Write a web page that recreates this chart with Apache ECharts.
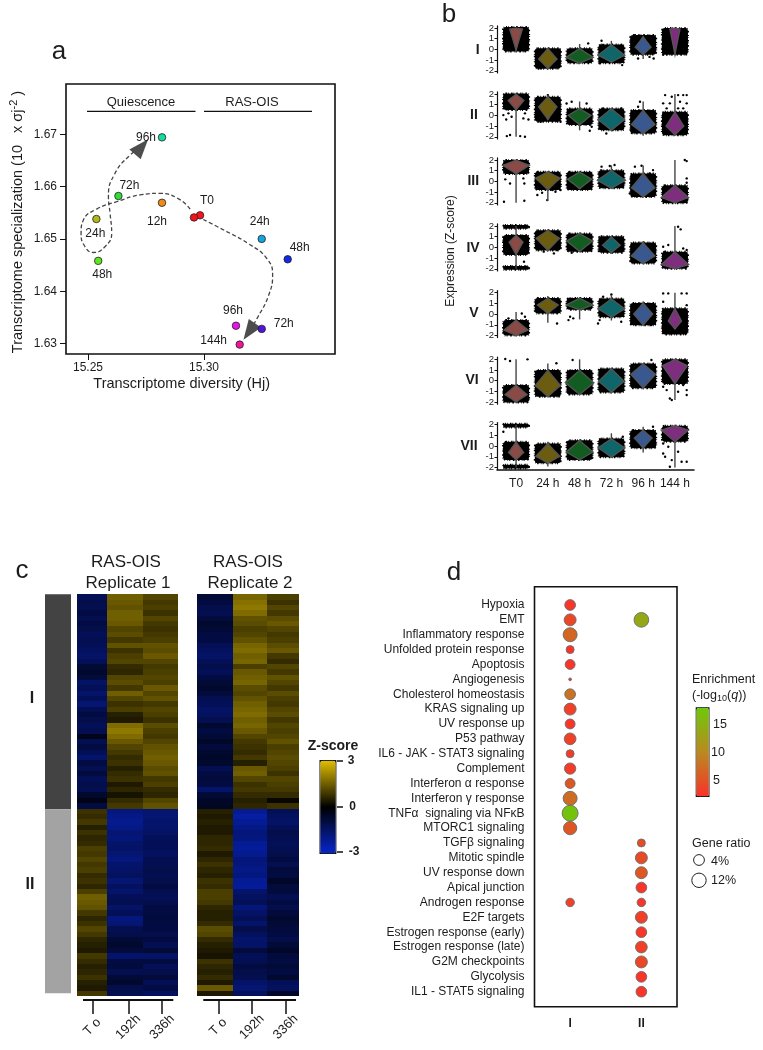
<!DOCTYPE html>
<html>
<head>
<meta charset="utf-8">
<script src="https://cdn.jsdelivr.net/npm/echarts@6/dist/echarts.min.js"></script>
<style>html,body{margin:0;padding:0;background:#fff}#main{width:763px;height:1050px}</style>
</head>
<body>
<div id="main"></div>
<script>
// panel a: trajectory points
var pointNames = ['T0', '', '12h', '72h', '24h', '48h', '96h', '24h', '48h', '72h', '96h', '144h'];
var pointX = [15.2983, 15.2957, 15.2819, 15.2631, 15.2536, 15.2544, 15.2819, 15.3249, 15.3361, 15.3249, 15.3138, 15.3154];
var pointY = [1.6545, 1.6541, 1.6569, 1.6582, 1.6538, 1.6458, 1.6694, 1.6500, 1.6461, 1.6328, 1.6334, 1.6298];
var pointColors = ['#f5141e', '#f01418', '#f08a14', '#2fdc38', '#b4b814', '#5fe61e', '#14dca0', '#14a4e0', '#1428e6', '#5014dc', '#e614e6', '#f0149a'];
var labelShift = [[7, -15], [0, 0], [-5, 19], [11, -10], [-1, 15], [4, 14], [-16, 0], [-2, -17], [12, -12], [22, -5], [-3, -15], [-26, -4]];
var quiescencePath = [[15.2940, 1.6557], [15.2889, 1.6577], [15.2810, 1.6587], [15.2724, 1.6584], [15.2624, 1.6571], [15.2537, 1.6557], [15.2480, 1.6536], [15.2470, 1.6511], [15.2487, 1.6485], [15.2523, 1.6474], [15.2573, 1.6485], [15.2602, 1.6511], [15.2595, 1.6549], [15.2588, 1.6581], [15.2616, 1.6625], [15.2681, 1.6660], [15.2731, 1.6676]];
var rasPath = [[15.2997, 1.6537], [15.3098, 1.6514], [15.3191, 1.6491], [15.3270, 1.6463], [15.3296, 1.6431], [15.3277, 1.6390], [15.3234, 1.6352], [15.3195, 1.6323]];

// panel b: clouds are [low, high], violins are [whisker low, peak, whisker high, half width]
var timeLabels = ['T0', '24 h', '48 h', '72 h', '96 h', '144 h'];
var rowNames = ['I', 'II', 'III', 'IV', 'V', 'VI', 'VII'];
var cloudsI = [[-0.2, 2.1], [-1.8, 0.1], [-1.3, 0.1], [-1.3, 0.45], [-0.5, 1.35], [-0.5, 2]];
var cloudsII = [[0.5, 2.05], [-0.6, 1.75], [-0.9, 0.65], [-1.4, 0.65], [-1.7, 0.5], [-1.85, 0.35]];
var cloudsIII = [[0.7, 2], [-0.8, 0.9], [-0.8, 0.9], [-0.65, 1.05], [-1.45, 0.75], [-2.05, -0.35]];
var cloudsIV = [[-0.7, 1.15], [-0.3, 1.6], [-0.4, 1.3], [-0.5, 1.05], [-1.5, 0.45], [-2, -0.4]];
var cloudsV = [[-2, -0.55], [0.05, 1.5], [0.4, 1.5], [-0.3, 1.45], [-1.05, 1.05], [-1.9, 0.55]];
var cloudsVI = [[-2.05, -0.4], [-1.5, 1], [-1.3, 1], [-1.1, 1.15], [-0.7, 1.6], [-0.3, 2]];
var cloudsVII = [[-1.3, 0.4], [-1.6, 0.25], [-1.3, 0.55], [-1.05, 0.7], [-0.2, 1.5], [0.4, 1.9]];
var violinsI = [[-0.1, 1.9, 2, 0.2], [-1.8, -0.9, 0.1, 0.29], [-1.3, -0.75, 0.5, 0.43], [-1.2, -0.55, 0.8, 0.42], [-0.9, 0.2, 1.2, 0.25], [-0.5, 1.9, 2, 0.16]];
var violinsII = [[-2, 1.4, 2, 0.25], [-0.4, 0.8, 1.9, 0.29], [-1.4, 0, 1.3, 0.36], [-1.5, -0.4, 0.7, 0.42], [-1.9, -0.85, 1.3, 0.37], [-1.9, -1, 2, 0.28]];
var violinsIII = [[-2, 1.5, 2, 0.42], [-1.8, 0.3, 0.9, 0.39], [-0.7, 0.2, 0.9, 0.38], [-0.7, 0.1, 1.5, 0.44], [-1.5, -0.6, 1.5, 0.37], [-2, -1.5, 2, 0.43]];
var violinsIV = [[-2, 0.5, 2, 0.22], [-0.3, 0.85, 1.7, 0.37], [-0.4, 0.6, 1.4, 0.41], [-0.6, 0.2, 1, 0.28], [-1.5, -0.8, 0.6, 0.37], [-2, -1.6, 2, 0.43]];
var violinsV = [[-2, -1.5, 0.2, 0.38], [-0.8, 0.85, 1.7, 0.33], [-0.5, 0.85, 1.6, 0.42], [-0.6, 0.5, 1.8, 0.42], [-1.1, 0, 1.2, 0.3], [-1.4, -0.65, 2, 0.21]];
var violinsVI = [[-2, -1.3, 2, 0.35], [-1.5, -0.45, 1.6, 0.4], [-1.3, -0.2, 2, 0.45], [-1.2, -0.05, 1.2, 0.4], [-0.8, 0.6, 1.6, 0.39], [-1.8, 1.4, 2, 0.39]];
var violinsVII = [[-2, -0.6, 2, 0.24], [-1.9, -0.95, 0.4, 0.38], [-1.4, -0.55, 0.6, 0.42], [-1.1, -0.15, 1.2, 0.42], [-0.6, 0.75, 1.8, 0.28], [-2, 1.5, 2, 0.43]];
var extraClouds = [[], [], [], [[0, 1.75, 2.1], [0, -2.1, -1.75]], [], [], [[0, 1.75, 2.1], [0, -2.1, -1.75]]];
var outliersI = [[2.27, 0.56], [2.69, 0.81], [2.74, 0.4], [2.63, 0.1], [3.31, 0.4], [2.63, -1.3], [3.34, -1.47], [3.74, 1.34], [4.33, 1.2], [3.84, -0.85], [4.33, -0.85], [4.2, -0.7], [4.63, -0.5], [0.77, -1.78], [1.37, -0.06]];
var outliersII = [[-0.4, 0.03], [-0.24, 0.19], [-0.14, -0.13], [0.23, -0.28], [0.39, -0.38], [-0.31, -0.38], [0.28, 0.19], [-0.29, -1.94], [-0.19, -1.84], [0.13, -1.94], [0.28, -2], [1, 1.9], [0.61, -0.13], [0.77, -0.6], [1.29, -0.5], [1.4, -0.6], [1.59, 1.12], [1.75, 1.28], [2.22, 1.12], [2.38, -1.06], [2.32, -1.44], [2.74, 0.66], [3.31, 0.66], [2.84, -1.69], [3.63, 0.03], [3.9, 1.28], [3.84, 0.81], [4.26, 0.34], [4.33, 0.03], [4.69, 1.9], [4.9, 1.75], [5.1, 1.9], [5.26, 1.9], [5.37, 1.9], [4.63, 1.13], [4.84, 1.13], [5.16, 1.28], [5.37, 1.13], [4.74, 0.66], [5.26, 0.66], [5.1, 0.66]];
var outliersIII = [[-0.34, 0.19], [-0.19, -0.19], [0.23, 0.28], [0.26, -0.19], [-0.38, -1.9], [0.26, -1.81], [0.67, -1.28], [0.82, -1.06], [1.14, -0.81], [1.24, -0.97], [0.98, -1.75], [1.4, -0.8], [2.95, 1.44], [3.1, 1.53], [2.69, 1.38], [3.74, 1.38], [3.95, 1.47], [4.31, 1.06], [4.21, 0.75], [3.69, 0.6], [3.58, -1.13], [5.31, 2], [5.37, 1.9], [5.37, 0.28], [5.37, -0.13]];
var outliersIV = [[0.25, -1.34], [0.87, -0.4], [0.98, -0.1], [1.19, -0.56], [1.29, -0.25], [1.75, -0.5], [5.1, 1.94], [5.18, 1.69], [4.63, 0.06], [4.79, 0.22], [5.26, -0.1], [5.37, -0.25], [4.69, -0.4]];
var outliersV = [[0.18, 0.06], [-0.24, -0.4], [0.28, -0.25], [1.29, -0.88], [1.7, -0.25], [1.8, -0.4], [1.65, -0.56], [2.63, -0.56], [2.58, -0.88], [3.31, -0.72], [2.74, 1.63], [3, 1.84], [3.63, -0.88], [4.26, -1.03], [4.63, 1.94], [4.79, 1.94], [5.21, 1.94], [5.37, 1.94], [4.63, 1.16], [5.37, 0.84]];
var outliersVI = [[-0.34, 2.03], [-0.19, 1.84], [0.36, 2], [1.27, 1.63], [1.78, 1.94], [4.26, 1.94], [4.84, -1.66], [4.9, -1.81], [5.37, -1.34], [4.63, -0.56], [4.74, -0.88], [5.26, -0.4], [5.37, -0.88], [5.1, -1.03]];
var outliersVII = [[-0.4, 1.34], [4.63, -0.69], [4.79, -0.06], [4.69, -1], [5.1, -0.53], [5.21, -1.47], [5.37, -1.47], [4.84, -1.94], [4.63, 0.25], [4.9, -1.31], [5.26, 0.56], [4.31, 1.81], [3.36, 0.88]];
var violinColors = ['#8a4a46', '#6b5c10', '#125c22', '#0f666a', '#38588f', '#7d2f7d'];

// panel c: 40 rows of cluster I then 35 rows of cluster II
var clusterSizes = [215, 184];
var heatTimes = ['T o', '192h', '336h'];
var rep1T0 = [-1.3, -1.1, -1.2, -1.0, -1.2, -1.0, -1.1, -1.3, -1.2, -1.3, -1.4, -1.5, -1.3, -0.8, -0.7, -0.9, -1.5, -1.3, -1.6, -1.3, -1.7, -1.2, -1.0, -1.1, -1.3, -1.2, -0.4, -1.2, -1.0, -1.3, -1.6, -1.0, -1.2, -0.9, -1.3, -1.1, -1.2, -0.7, -0.3, -1.0,
    0.8, 0.7, 0.9, 0.5, 0.8, 0.6, 0.7, 1.0, 0.9, 1.1, 0.9, 1.0, 0.7, 0.8, 0.6, 1.0, 1.5, 1.4, 1.3, 0.9, 0.6, 0.8, 1.1, 0.9, 0.6, 0.5, 0.4, 0.9, 0.7, 0.5, 0.6, 0.8, 0.5, 0.4, 0.9];
var rep1H192 = [1.5, 1.4, 1.3, 1.5, 1.5, 1.4, 1.1, 1.2, 0.9, 1.3, 0.8, 1.0, 1.1, 0.7, 0.6, 1.1, 1.2, 0.9, 1.5, 1.1, 0.8, 1.0, 0.5, 0.4, 1.7, 1.9, 1.7, 1.4, 1.1, 0.9, 0.7, 0.8, 0.5, 0.7, 0.8, 0.4, 0.6, 0.3, 0.7, 0.9,
    -1.9, -2.0, -2.1, -2.0, -1.7, -1.8, -1.6, -1.5, -1.7, -1.9, -1.6, -1.5, -1.4, -1.7, -1.4, -1.6, -1.3, -1.2, -1.5, -1.3, -1.9, -1.7, -1.2, -1.1, -0.8, -0.7, -0.9, -1.6, -1.0, -0.9, -1.2, -0.8, -0.7, -1.1, -1.2];
var rep1H336 = [1.1, 0.9, 1.0, 0.8, 1.1, 0.9, 0.8, 0.9, 1.0, 1.3, 1.2, 1.4, 1.1, 0.9, 1.0, 1.1, 1.0, 1.4, 1.1, 1.3, 0.9, 1.1, 1.0, 0.8, 1.2, 1.0, 0.9, 1.1, 1.3, 1.4, 1.5, 1.4, 1.2, 1.3, 0.9, 1.0, 0.7, 0.6, 1.1, 1.3,
    -1.7, -1.7, -1.6, -1.6, -1.5, -1.3, -1.3, -1.3, -1.4, -1.2, -1.2, -1.1, -1.2, -1.1, -1.0, -1.2, -1.3, -1.1, -1.0, -1.0, -0.9, -1.0, -1.0, -1.1, -1.0, -1.2, -0.8, -1.5, -1.0, -1.3, -1.1, -0.9, -1.3, -1.0, -1.4];
var rep2T0 = [-0.8, -1.0, -1.1, -1.2, -0.9, -0.7, -0.8, -1.0, -1.0, -1.3, -1.4, -1.5, -1.3, -1.1, -1.3, -1.0, -0.8, -0.7, -0.9, -1.2, -1.3, -1.5, -1.4, -1.2, -0.7, -1.0, -0.8, -0.6, -0.9, -0.7, -0.6, -0.7, -1.2, -1.0, -0.9, -1.0, -1.6, -0.8, -0.6, -0.5,
    0.5, 0.4, 0.5, 0.4, 0.4, 0.6, 0.6, 0.7, 0.4, 0.6, 0.8, 0.6, 0.5, 0.8, 0.7, 1.0, 1.0, 0.9, 0.6, 0.5, 0.5, 0.7, 1.2, 1.1, 0.7, 0.5, 0.4, 0.3, 0.8, 0.6, 0.5, 0.7, 0.4, 1.4, 0.4];
var rep2H192 = [1.6, 1.8, 1.9, 1.7, 1.3, 1.2, 1.0, 1.1, 1.3, 1.6, 1.7, 1.5, 1.6, 1.0, 1.4, 1.5, 1.6, 1.2, 1.1, 1.3, 1.5, 1.6, 1.7, 1.5, 1.6, 1.4, 1.1, 0.9, 0.8, 0.7, 0.9, 0.5, 1.4, 1.5, 1.1, 0.8, 0.9, 0.7, 0.5, 0.6,
    -2.2, -2.4, -2.2, -2.0, -1.8, -1.9, -2.2, -2.3, -2.1, -1.8, -1.9, -2.0, -1.9, -2.2, -2.3, -1.6, -1.4, -1.3, -1.8, -1.5, -1.3, -1.6, -1.1, -1.4, -1.6, -1.5, -0.9, -1.3, -1.2, -1.0, -1.1, -1.2, -1.5, -1.7, -1.4];
var rep2H336 = [1.0, 0.8, 1.1, 0.9, 1.2, 1.4, 1.1, 0.9, 1.0, 1.2, 1.4, 0.9, 0.7, 1.1, 0.9, 1.3, 1.1, 0.9, 1.2, 1.0, 0.9, 1.1, 1.2, 0.9, 1.1, 1.0, 1.1, 1.3, 1.0, 1.1, 1.2, 1.1, 1.0, 0.8, 1.1, 1.0, 0.9, 0.7, 0.1, 0.8,
    -1.3, -1.4, -1.5, -1.3, -1.1, -1.2, -1.3, -1.2, -1.1, -1.0, -1.2, -0.9, -1.0, -0.6, -0.9, -0.9, -1.2, -1.0, -1.1, -0.9, -0.7, -0.8, -0.9, -1.0, -1.1, -0.8, -0.6, -0.9, -1.0, -0.8, -1.0, -0.7, -1.3, -1.4, -0.6];

// panel d: dots are [pathway index, enrichment, gene ratio %]
var pathways = ['Hypoxia', 'EMT', 'Inflammatory response', 'Unfolded protein response', 'Apoptosis', 'Angiogenesis', 'Cholesterol homeostasis', 'KRAS signaling up', 'UV response up', 'P53 pathway', 'IL6 - JAK - STAT3 signaling', 'Complement', 'Interferon α response', 'Interferon γ response', 'TNFα  signaling via NFκB', 'MTORC1 signaling', 'TGFβ signaling', 'Mitotic spindle', 'UV response down', 'Apical junction', 'Androgen response', 'E2F targets', 'Estrogen response (early)', 'Estrogen response (late)', 'G2M checkpoints', 'Glycolysis', 'IL1 - STAT5 signaling'];
var clusterNames = ['I', 'II'];
var dotsI = [[0, 2.5, 3.8], [1, 4, 5.6], [2, 7, 10.4], [3, 2, 2.8], [4, 2.5, 3.5], [5, 2, 0.9], [6, 8, 3.8], [7, 3.5, 5.6], [8, 2.5, 3.5], [9, 3.5, 5], [10, 3, 2.8], [11, 3, 4], [12, 5.5, 3.5], [13, 7.5, 10.4], [14, 17.5, 15], [15, 5.5, 8.7], [20, 3.5, 3]];
var dotsII = [[1, 14, 12], [16, 4.5, 2.8], [17, 4.5, 5.6], [18, 5.5, 5.6], [19, 2.5, 3.8], [20, 2.5, 3], [21, 3.5, 5.6], [22, 2.5, 3.8], [23, 3.5, 5], [24, 4, 5.6], [25, 2.5, 3.8], [26, 2.5, 3.8]];

var font = '"Liberation Sans", Arial, sans-serif';
var ink = '#1c1c1c';

function txt(text, x, y, size, extra) {
    var style = {text: text, x: x, y: y, font: size + 'px ' + font, fill: ink, align: 'center', verticalAlign: 'middle'};
    var el = {type: 'text', silent: true, style: style};
    if (extra) {
        if (extra.weight) style.font = extra.weight + ' ' + style.font;
        if (extra.align) style.align = extra.align;
        if (extra.rich) style.rich = extra.rich;
        if (extra.rotation) {
            el.rotation = extra.rotation;
            el.x = x;
            el.y = y;
            style.x = 0;
            style.y = 0;
        }
    }
    return el;
}
function hline(x1, x2, y, width) {
    return {type: 'line', silent: true, shape: {x1: x1, y1: y, x2: x2, y2: y}, style: {stroke: '#111', lineWidth: width}};
}

var grids = [], xAxes = [], yAxes = [], series = [];

// ---------- a ----------
grids.push({left: 66, top: 84, width: 269, height: 270, show: true, borderColor: '#111', borderWidth: 1.6, backgroundColor: 'transparent'});
xAxes.push({
    type: 'value', gridIndex: 0, min: 15.2405, max: 15.3565, splitLine: {show: false}, axisLine: {show: false},
    axisTick: {length: 6, lineStyle: {color: '#111'}, customValues: [15.25, 15.30]},
    axisLabel: {fontSize: 12, color: ink, margin: 8, customValues: [15.25, 15.30], formatter: function (v) { return v.toFixed(2); }}
});
yAxes.push({
    type: 'value', gridIndex: 0, min: 1.628, max: 1.6796, splitLine: {show: false}, axisLine: {show: false},
    axisTick: {length: 6, lineStyle: {color: '#111'}, customValues: [1.63, 1.64, 1.65, 1.66, 1.67]},
    axisLabel: {fontSize: 12, color: ink, margin: 9, customValues: [1.63, 1.64, 1.65, 1.66, 1.67], formatter: function (v) { return v.toFixed(2); }}
});
function trajectory(path, arrowRotate) {
    var data = path.slice(0, -1).map(function (p) { return p; });
    data.push({value: path[path.length - 1], symbol: 'triangle', symbolSize: [15, 20], symbolRotate: arrowRotate, itemStyle: {color: '#4d4d4d'}});
    return {
        type: 'line', xAxisIndex: 0, yAxisIndex: 0, smooth: 0.5, data: data, symbol: 'none', showSymbol: true, z: 2, silent: true,
        lineStyle: {color: '#444', width: 1.3, type: [4, 2.5]}
    };
}
series.push(trajectory(quiescencePath, -41));
series.push(trajectory(rasPath, 145));
series.push({
    type: 'scatter', xAxisIndex: 0, yAxisIndex: 0, symbolSize: 7.5, z: 3, silent: true,
    data: pointNames.map(function (n, i) {
        return {
            value: [pointX[i], pointY[i]], name: n,
            itemStyle: {color: pointColors[i], borderColor: '#222', borderWidth: 0.8, opacity: 1},
            label: {show: n !== '', formatter: n, position: 'inside', offset: labelShift[i], fontSize: 12, color: ink, textBorderWidth: 0, opacity: 1}
        };
    })
});

// ---------- b ----------
var rowTops = [25.9, 91.9, 157.9, 223.9, 290.6, 357.2, 422.6];
var rowClouds = [cloudsI, cloudsII, cloudsIII, cloudsIV, cloudsV, cloudsVI, cloudsVII];
var rowViolins = [violinsI, violinsII, violinsIII, violinsIV, violinsV, violinsVI, violinsVII];
var rowOutliers = [outliersI, outliersII, outliersIII, outliersIV, outliersV, outliersVI, outliersVII];

function renderCloud(params, api) {
    var c = api.coord([api.value(0), api.value(2)]);
    var d = api.coord([api.value(0), api.value(1)]);
    var hw = api.size([0.41, 0])[0];
    return {
        type: 'rect', shape: {x: c[0] - hw, y: c[1], width: hw * 2, height: d[1] - c[1], r: 3},
        style: {fill: '#000', stroke: '#000', lineWidth: 2, lineDash: [1, 1.2, 0.6, 2.3, 1.4, 1, 0.7, 1.9, 1.6, 2.6]}
    };
}
function renderViolin(params, api) {
    var x = api.value(0), low = api.value(1), high = api.value(2);
    var wl = api.value(3), peak = api.value(4), wh = api.value(5);
    var hw = api.size([api.value(6), 0])[0];
    var bl = Math.max(low, wl), bh = Math.min(high, wh);
    var cx = api.coord([x, 0])[0];
    var left = [], right = [];
    for (var k = 0; k <= 16; k++) {
        var s = k / 16;
        var v = s < 0.5 ? bl + (peak - bl) * s * 2 : peak + (bh - peak) * (s - 0.5) * 2;
        var t = s < 0.5 ? s * 2 : (1 - s) * 2;
        var w = hw * Math.pow(t, 1.05);
        var py = api.coord([x, v])[1];
        left.push([cx - w, py]);
        right.unshift([cx + w, py]);
    }
    return {
        type: 'group',
        children: [
            {type: 'line', shape: {x1: cx, y1: api.coord([x, wl])[1], x2: cx, y2: api.coord([x, wh])[1]}, style: {stroke: '#444', lineWidth: 1.4}},
            {type: 'polygon', shape: {points: left.concat(right)}, style: {fill: violinColors[x], stroke: '#555', lineWidth: 1.3}}
        ]
    };
}
rowNames.forEach(function (name, r) {
    var gi = grids.length;
    var last = r === rowNames.length - 1;
    grids.push({left: 497, top: rowTops[r], width: 197, height: 47});
    xAxes.push({
        type: 'value', gridIndex: gi, min: -0.6, max: 5.6, show: last, splitLine: {show: false},
        axisLine: {show: last, onZero: false, lineStyle: {color: '#111', width: 1.5}}, axisTick: {show: false},
        axisLabel: {fontSize: 12, color: ink, margin: 8, customValues: [0, 1, 2, 3, 4, 5], formatter: function (v) { return timeLabels[v]; }}
    });
    yAxes.push({
        type: 'value', gridIndex: gi, min: -2.2, max: 2.2, splitLine: {show: false},
        axisLine: {show: true, onZero: false, lineStyle: {color: '#111', width: 1.2}},
        axisTick: {length: 2.5, lineStyle: {color: '#111'}, customValues: [-2, -1, 0, 1, 2]},
        axisLabel: {fontSize: 9.5, color: ink, margin: 3, customValues: [-2, -1, 0, 1, 2]}
    });
    var cloudData = rowClouds[r].map(function (c, i) { return [i, c[0], c[1]]; }).concat(extraClouds[r]);
    series.push({type: 'custom', xAxisIndex: gi, yAxisIndex: gi, renderItem: renderCloud, data: cloudData, z: 2, silent: true, clip: false, encode: {x: 0, y: [1, 2]}});
    series.push({type: 'scatter', xAxisIndex: gi, yAxisIndex: gi, symbolSize: 2.4, itemStyle: {color: '#000', opacity: 1}, data: rowOutliers[r], z: 3, silent: true, clip: false});
    series.push({
        type: 'custom', xAxisIndex: gi, yAxisIndex: gi, renderItem: renderViolin, z: 4, silent: true, clip: false, encode: {x: 0, y: [1, 2]},
        data: rowViolins[r].map(function (v, i) { return [i, rowClouds[r][i][0], rowClouds[r][i][1], v[0], v[1], v[2], v[3]]; })
    });
});

// ---------- c ----------
var sideGrid = grids.length;
grids.push({left: 45, top: 594.3, width: 26, height: 399});
xAxes.push({type: 'category', gridIndex: sideGrid, data: ['cluster'], show: false});
yAxes.push({type: 'value', gridIndex: sideGrid, inverse: true, min: 0, max: clusterSizes[0] + clusterSizes[1], show: false});
series.push({type: 'bar', xAxisIndex: sideGrid, yAxisIndex: sideGrid, stack: 'side', barWidth: '100%', silent: true, data: [clusterSizes[0]], itemStyle: {color: '#444343'}});
series.push({type: 'bar', xAxisIndex: sideGrid, yAxisIndex: sideGrid, stack: 'side', barWidth: '100%', silent: true, data: [clusterSizes[1]], itemStyle: {color: '#a3a3a3'}});

var heatSeries = [];
function addHeat(columns, left, edges, ticks) {
    var gi = grids.length;
    var nRows = columns[0].length;
    grids.push({left: left, top: 594.3, width: 101.4, height: 401.7});
    xAxes.push({
        type: 'value', gridIndex: gi, min: 0, max: 1, position: 'bottom', offset: 4, splitLine: {show: false}, axisLine: {show: false, onZero: false},
        axisTick: {length: 14, lineStyle: {color: '#111', width: 1.5}, customValues: ticks},
        axisLabel: {
            fontSize: 13, color: ink, rotate: 45, margin: 27, align: 'center', verticalAlign: 'middle', customValues: ticks,
            formatter: function (v) { return heatTimes[ticks.indexOf(v)]; }
        }
    });
    yAxes.push({type: 'value', gridIndex: gi, inverse: true, min: 0, max: nRows, show: false});
    var data = [];
    columns.forEach(function (col, c) {
        col.forEach(function (v, row) { data.push([c, row, v]); });
    });
    heatSeries.push(series.length);
    series.push({
        type: 'custom', xAxisIndex: gi, yAxisIndex: gi, data: data, silent: true, z: 2, encode: {x: 0, y: 1},
        renderItem: function (params, api) {
            var c = api.value(0), row = api.value(1);
            var a = api.coord([edges[c], row]);
            var b = api.coord([edges[c + 1], row + 1]);
            var x0 = Math.round(a[0]), y0 = Math.round(a[1]);
            return {
                type: 'rect',
                shape: {x: x0, y: y0, width: Math.round(b[0]) - x0, height: Math.round(b[1]) - y0},
                style: {fill: api.visual('color')}
            };
        }
    });
}
addHeat([rep1T0, rep1H192, rep1H336], 77, [0, 0.293, 0.655, 1], [0.151, 0.506, 0.839]);
addHeat([rep2T0, rep2H192, rep2H336], 197.3, [0, 0.349, 0.691, 1], [0.207, 0.539, 0.872]);

// ---------- d ----------
var dotGrid = grids.length;
grids.push({left: 534.5, top: 586.7, width: 142.5, height: 420, show: true, borderColor: '#111', borderWidth: 1.6, backgroundColor: 'transparent'});
xAxes.push({
    type: 'category', gridIndex: dotGrid, data: clusterNames, position: 'bottom', axisLine: {show: false, onZero: false},
    axisTick: {length: 6, alignWithLabel: true, lineStyle: {color: '#111', width: 1.3}},
    axisLabel: {fontSize: 12, fontWeight: 'bold', color: ink, margin: 11}
});
var pathwayTicks = pathways.map(function (p, i) { return i; });
yAxes.push({
    type: 'value', gridIndex: dotGrid, inverse: true, min: -1.23, max: 27.01, splitLine: {show: false}, axisLine: {show: false},
    axisTick: {length: 8, lineStyle: {color: '#111', width: 1.3}, customValues: pathwayTicks},
    axisLabel: {fontSize: 12, color: ink, margin: 10, customValues: pathwayTicks, formatter: function (v) { return pathways[v]; }}
});
function ratioSize(r) {
    if (r < 4) return 3 + (r - 1) * (11.3 - 3) / 3;
    if (r < 12) return 11.3 + (r - 4) * 3.4 / 8;
    return 14.7 + (r - 12) * 0.42;
}
var dotData = [];
dotsI.forEach(function (d) { dotData.push([0, d[0], d[1], d[2]]); });
dotsII.forEach(function (d) { dotData.push([1, d[0], d[1], d[2]]); });
var dotSeries = series.length;
series.push({
    type: 'scatter', xAxisIndex: dotGrid, yAxisIndex: dotGrid, data: dotData, z: 3, silent: true,
    symbolSize: function (v) { return ratioSize(v[3]); },
    itemStyle: {borderColor: '#6b6b6b', borderWidth: 0.9, opacity: 1},
    encode: {x: 0, y: 1}
});

// ---------- text and decoration ----------
var graphics = [
    txt('a', 59, 52, 26),
    txt('b', 449, 15, 26),
    txt('c', 22, 571, 26),
    txt('d', 454, 573, 26),
    txt('Quiescence', 141, 102, 13),
    txt('RAS-OIS', 252, 102, 13),
    hline(87, 195.5, 111.3, 1.2),
    hline(204, 312, 111.3, 1.2),
    txt('Transcriptome diversity (Hj)', 181.7, 384, 14.5),
    txt('Transcriptome specialization (10   x σj{sup|-2} )', 18, 222, 14.5, {
        rotation: Math.PI / 2,
        rich: {sup: {fontSize: 11, fontFamily: font, padding: [0, 0, 9, 0], fill: ink, color: ink}}
    }),
    txt('Expression (Z-score)', 451, 251, 12, {rotation: Math.PI / 2}),
    txt('RAS-OIS', 126, 562, 17),
    txt('Replicate 1', 128, 583, 17),
    txt('RAS-OIS', 248, 562, 17),
    txt('Replicate 2', 250, 583, 17),
    txt('I', 32, 699, 16, {weight: 'bold'}),
    txt('II', 30, 885, 16, {weight: 'bold'}),
    hline(83, 173.3, 1000, 2),
    hline(203.3, 296, 1000, 2),
    txt('Z-score', 333, 746, 14, {weight: 'bold'}),
    hline(337, 343, 761, 1.5),
    hline(337, 343, 807, 1.5),
    hline(337, 343, 852, 1.5),
    txt('3', 351, 761, 12, {weight: 'bold'}),
    txt('0', 352.5, 807, 12, {weight: 'bold'}),
    txt('-3', 354, 852, 12, {weight: 'bold'}),
    txt('Enrichment', 692, 679.6, 12.5, {align: 'left'}),
    txt('(-log{sub|10}({it|q}))', 692, 696, 12.5, {
        align: 'left',
        rich: {
            sub: {fontSize: 9, fontFamily: font, padding: [5, 0, 0, 0], fill: ink, color: ink},
            it: {fontSize: 12.5, fontFamily: font, fontStyle: 'italic', fill: ink, color: ink}
        }
    }),
    txt('15', 713, 725, 12.5, {align: 'left'}),
    txt('10', 711, 753, 12.5, {align: 'left'}),
    txt('5', 713, 780.3, 12.5, {align: 'left'}),
    txt('Gene ratio', 692, 844, 12.5, {align: 'left'}),
    {type: 'circle', silent: true, shape: {cx: 699, cy: 860, r: 5.4}, style: {fill: '#fff', stroke: '#222', lineWidth: 1}},
    {type: 'circle', silent: true, shape: {cx: 699, cy: 880.3, r: 7.2}, style: {fill: '#fff', stroke: '#222', lineWidth: 1}},
    txt('4%', 711, 862, 12.5, {align: 'left'}),
    txt('12%', 711, 881, 12.5, {align: 'left'})
];
var rowLabelX = [477.7, 474, 473.3, 473, 474, 472, 469];
var rowLabelY = [50, 115, 181, 248, 312.7, 380, 446];
rowNames.forEach(function (n, r) {
    graphics.push(txt(n, rowLabelX[r], rowLabelY[r], 14, {weight: 'bold'}));
});

var chart = echarts.init(document.getElementById('main'), null, {renderer: 'canvas'});
chart.setOption({
    animation: false,
    backgroundColor: '#fff',
    textStyle: {fontFamily: font},
    grid: grids,
    xAxis: xAxes,
    yAxis: yAxes,
    series: series,
    visualMap: [
        {
            type: 'continuous', seriesIndex: heatSeries, dimension: 2, min: -3, max: 3, calculable: false, realtime: false,
            left: 319.5, top: 760, itemWidth: 15.5, itemHeight: 92.5, padding: 0, borderColor: '#111', borderWidth: 1.4, text: null,
            inRange: {color: ['#0725c9', '#000000', '#e0bd00']}, hoverLink: false
        },
        {
            type: 'continuous', seriesIndex: [dotSeries], dimension: 2, min: 2.2, max: 18.3, calculable: false, realtime: false,
            left: 695.7, top: 707.3, itemWidth: 12.6, itemHeight: 88.4, padding: 0, borderColor: '#111', borderWidth: 1.2, text: null,
            inRange: {color: ['#fa3228', '#b98a20', '#6ec80a']}, hoverLink: false
        }
    ],
    graphic: graphics
});
</script>
</body>
</html>
